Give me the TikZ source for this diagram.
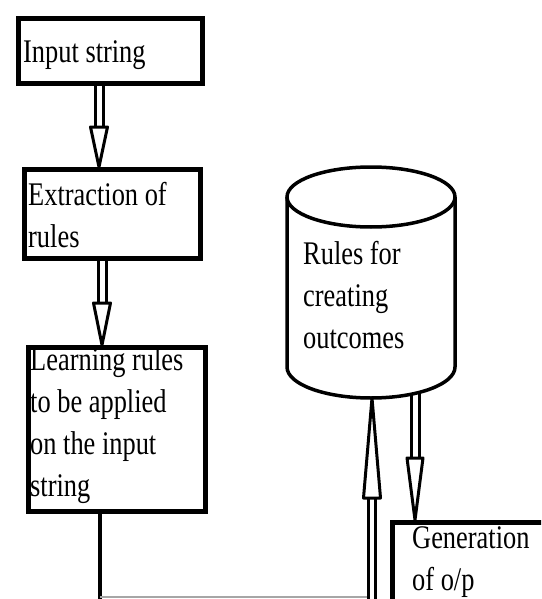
\documentclass[tikz,border=0pt]{standalone}
\usepackage{fontspec}
\newfontfamily\tf[FakeStretch=0.8]{Liberation Serif}
\usetikzlibrary{calc}
\newcommand\dnarr[4]{%
  \draw[shaft] let \p1=(#1), \p2=(#2) in
    (\x1-4pt,\y1) -- (\x1-4pt,\y2+#3)
    (\x1+4pt,\y1) -- (\x1+4pt,\y2+#3);
  \draw[head] let \p1=(#1), \p2=(#2) in
    (\x1-#4,\y2+#3) -- (\x1,\y2) -- (\x1+#4,\y2+#3) -- cycle;}
\newcommand\uparr[4]{%
  \draw[shaft] let \p1=(#1), \p2=(#2) in
    (\x1-3.5pt,\y1) -- (\x1-3.5pt,\y2-#3)
    (\x1+3.5pt,\y1) -- (\x1+3.5pt,\y2-#3);
  \draw[head] let \p1=(#1), \p2=(#2) in
    (\x1-#4,\y2-#3) -- (\x1,\y2) -- (\x1+#4,\y2-#3) -- cycle;}
\begin{document}
\begin{tikzpicture}[x=1pt,y=-1pt,
  box/.style={draw, line width=5pt, inner sep=0pt, anchor=north west},
  txt/.style={font=\tf\fontsize{33}{42}\selectfont, inner sep=0pt, align=left, anchor=base west},
  shaft/.style={line width=3pt},
  head/.style={line width=3pt, fill=white, line join=round}]
\useasboundingbox (0,0) rectangle (541,599);
\clip (0,0) rectangle (541,599);
\fill[white] (0,0) rectangle (541,599);

% boxes
\node[box, minimum width=184pt, minimum height=65pt] (in) at (16,16) {};
\node[box, minimum width=176pt, minimum height=89pt] (ex) at (22,167) {};
\node[box, minimum width=177pt, minimum height=164pt] (lr) at (26,345) {};
\node[box, minimum width=180pt, minimum height=120pt] (gen) at (390,520) {};

% texts (base anchor = baseline of last line)
\node[txt] (tin) at (23,63) {Input string};
\node[txt] (tex) at (28,247) {Extraction of\\rules};
\node[txt] (tlr) at (30,496) {Learning rules\\to be applied\\on the input\\string};
\node[txt] (tgen) at (412,590) {Generation\\of o/p};

% cylinder
\draw[line width=3.5pt] (371,197) ellipse [x radius=84, y radius=30];
\draw[line width=3.5pt] (287,197) -- (287,367)
  arc[start angle=180, end angle=0, x radius=84, y radius=31] -- (455,197);
\coordinate (cyl) at (372,398);
\coordinate (cylr) at (415,394);
\node[txt] (tcyl) at (303,348) {Rules for\\creating\\outcomes};

% connectors
\coordinate (a1) at ($(in.south west)+(83,0)$);
\dnarr{a1}{a1 |- ex.north}{40pt}{8.5pt}
\coordinate (a2) at ($(ex.south west)+(80,0)$);
\dnarr{a2}{a2 |- lr.north}{42pt}{8.5pt}
\coordinate (l1) at ($(lr.south west)+(74,0)$);
\coordinate (l2) at (100,597);
\coordinate (l3) at (368,597);
\draw[line width=3.5pt] (l1) -- (100,605);
\draw[line width=1.2pt, gray!70] (l2) -- (l3);
\coordinate (ub) at (372,610);
\uparr{ub}{cyl}{100pt}{8.5pt}
\dnarr{cylr}{cylr |- gen.north}{62pt}{8pt}
\end{tikzpicture}
\end{document}
